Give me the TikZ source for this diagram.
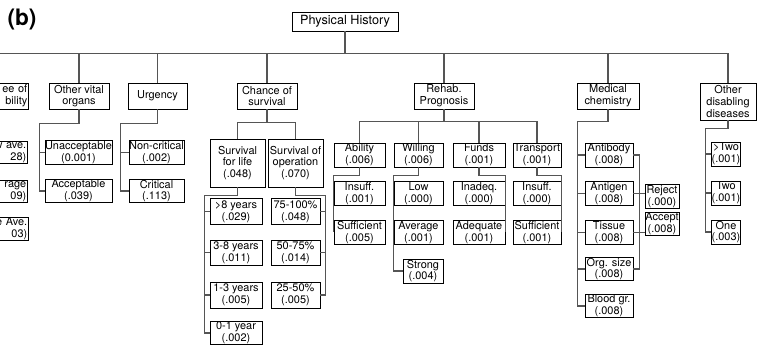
\documentclass[tikz,border=0pt]{standalone}
\usepackage{fontspec}
\setmainfont{TeX Gyre Heros}
\usetikzlibrary{calc}

\tikzset{every picture/.style={line width=0.75pt}}
\tikzset{
  box/.style={draw, line width=0.6pt, inner xsep=0pt, inner ysep=0.5pt, align=center, font=\fontsize{8.2}{8.8}\selectfont},
  cutbox/.style={box, anchor=east, text width=46pt, align=right, inner xsep=1pt},
  link/.style={draw={rgb, 255:red, 85; green, 85; blue, 85 }, line width=0.9pt}
}

\begin{document}
\begin{tikzpicture}[x=0.75pt,y=0.75pt,yscale=-1,xscale=1]
	\useasboundingbox (0,0) rectangle (757,345);
	\clip (0,0) rectangle (757,345);

	% Text Node
	\node[font=\fontsize{17}{17}\selectfont\bfseries] (lbl) at (22,20) {(b)};
	\node[box, font=\fontsize{9.5}{10}\selectfont, minimum width=79.5pt, minimum height=14.25pt] (ph) at (345,21.5) {Physical History};

	% Level 1 nodes
	\node[cutbox, minimum width=48pt, minimum height=19.5pt] (deg) at (29,96) {ee of\\bility\hspace*{3pt}};
	\node[box, minimum width=45pt, minimum height=19.5pt] (vital) at (79,96) {Other vital\\organs};
	\node[box, minimum width=44.25pt, minimum height=19.5pt] (urg) at (157.5,96) {Urgency};
	\node[box, minimum width=45pt, minimum height=19.5pt] (chance) at (267,96) {Chance of\\survival};
	\node[box, minimum width=45pt, minimum height=19.5pt] (rehab) at (444,96) {Rehab.\\Prognosis};
	\node[box, minimum width=46.5pt, minimum height=19.5pt] (med) at (608,96) {Medical\\chemistry};
	\node[box, minimum width=42pt, minimum height=27.75pt] (oth) at (728,101.5) {Other\\disabling\\diseases};

	%Straight Lines
	\foreach \n in {deg,vital,urg,chance,rehab,med,oth}
		\draw[link] (ph.south) -- ++(0,22) -| (\n.north);

	% Degree children (cut by the left edge)
	\node[cutbox, minimum width=48pt, minimum height=16.5pt] (dg1) at (28,152.5) {w ave.\\28)\hspace*{11pt}};
	\node[cutbox, minimum width=48pt, minimum height=16.5pt] (dg2) at (28,191.5) {rage\\09)\hspace*{11pt}};
	\node[cutbox, minimum width=48pt, minimum height=15.75pt] (dg3) at (29,229) {e Ave.\\03)\hspace*{11pt}};
	\draw[link] (deg.south) -- ++(0,14) -| ($(dg3.west)+(-5,0)$) -- (dg3.west);
	\draw[link] (dg1.west) -- ++(-5,0);
	\draw[link] (dg2.west) -- ++(-5,0);

	% Other vital organs
	\node[box, minimum width=50.25pt, minimum height=15.75pt] (unacc) at (78.5,152.5) {Unacceptable\\(0.001)};
	\node[box, minimum width=50.25pt, minimum height=16.5pt] (acc) at (78.5,191) {Acceptable\\(.039)};
	\draw[link] (vital.south) -- ++(0,14) -| ($(acc.west)+(-5,0)$) -- (acc.west);
	\draw[link] (unacc.west) -- ++(-5,0);

	% Urgency
	\node[box, minimum width=41.25pt, minimum height=15.75pt] (ncrit) at (156.5,152.5) {Non-critical\\(.002)};
	\node[box, minimum width=41.25pt, minimum height=16.5pt] (crit) at (156.5,191) {Critical\\(.113)};
	\draw[link] (urg.south) -- ++(0,14) -| ($(crit.west)+(-8,0)$) -- (crit.west);
	\draw[link] (ncrit.west) -- ++(-8,0);

	% Chance of survival
	\node[box, minimum width=41.25pt, minimum height=36pt] (life) at (237.5,163) {Survival\\for life\\(.048)};
	\node[box, minimum width=41.25pt, minimum height=36pt] (oper) at (295.5,163) {Survival of\\operation\\(.070)};
	\draw[link] (chance.south) -- ++(0,13) -| (life.north);
	\draw[link] (chance.south) -- ++(0,13) -| (oper.north);

	\node[box, minimum width=39pt, minimum height=19.5pt] (y8) at (236,211.5) {>8 years\\(.029)};
	\node[box, minimum width=39pt, minimum height=18.75pt] (y38) at (236,252.5) {3-8 years\\(.011)};
	\node[box, minimum width=39pt, minimum height=19.5pt] (y13) at (236,295) {1-3 years\\(.005)};
	\node[box, minimum width=39pt, minimum height=16.5pt] (y01) at (236,333) {0-1 year\\(.002)};
	\draw[link] (life.south) -- ++(0,8) -| ($(y01.west)+(-5,0)$) -- (y01.west);
	\foreach \n in {y8,y38,y13}
		\draw[link] (\n.west) -- ++(-5,0);

	\node[box, minimum width=36.75pt, minimum height=19.5pt] (p75) at (295.5,211.5) {75-100\%\\(.048)};
	\node[box, minimum width=36.75pt, minimum height=18.75pt] (p50) at (295.5,252.5) {50-75\%\\(.014)};
	\node[box, minimum width=36.75pt, minimum height=19.5pt] (p25) at (295.5,295) {25-50\%\\(.005)};
	\draw[link] (oper.south) -- ++(0,8) -| ($(p25.east)+(5,0)$) -- (p25.east);
	\draw[link] (p75.east) -- ++(5,0);
	\draw[link] (p50.east) -- ++(5,0);

	% Rehab. Prognosis
	\node[box, minimum width=38.25pt, minimum height=18pt] (abil) at (359.5,155) {Ability\\(.006)};
	\node[box, minimum width=36.75pt, minimum height=18pt] (will) at (418.5,155) {Willing\\(.006)};
	\node[box, minimum width=39pt, minimum height=18pt] (fund) at (479,155) {Funds\\(.001)};
	\node[box, minimum width=36pt, minimum height=18pt] (tran) at (537,155) {Transport\\(.001)};
	\foreach \n in {abil,will,fund,tran}
		\draw[link] (rehab.south) -- ++(0,12) -| (\n.north);

	\node[box, minimum width=38.25pt, minimum height=17.25pt] (ains) at (359.5,193.5) {Insuff.\\(.001)};
	\node[box, minimum width=38.25pt, minimum height=17.25pt] (asuf) at (359.5,232.5) {Sufficient\\(.005)};
	\draw[link] (abil.south) -- ++(0,8) -| (asuf.west);

	\node[box, minimum width=36.75pt, minimum height=17.25pt] (wlow) at (418.5,193.5) {Low\\(.000)};
	\node[box, minimum width=36.75pt, minimum height=17.25pt] (wavg) at (418.5,232.5) {Average\\(.001)};
	\node[box, minimum width=30pt, minimum height=18pt] (wstr) at (423,271) {Strong\\(.004)};
	\draw[link] (will.south) -- ++(0,8) -| ($(wstr.west)+(-9,0)$) -- (wstr.west);

	\node[box, minimum width=39pt, minimum height=17.25pt] (finad) at (479,193.5) {Inadeq.\\(.000)};
	\node[box, minimum width=39pt, minimum height=17.25pt] (fadq) at (479,232.5) {Adequate\\(.001)};
	\draw[link] (fund.south) -- ++(0,8) -| (fadq.east);

	\node[box, minimum width=36pt, minimum height=17.25pt] (tins) at (537,193.5) {Insuff.\\(.000)};
	\node[box, minimum width=36pt, minimum height=17.25pt] (tsuf) at (537,232.5) {Sufficient\\(.001)};
	\draw[link] (tran.south) -- ++(0,8) -| (tsuf.east);

	% Medical chemistry
	\node[box, minimum width=36pt, minimum height=18pt] (mab) at (609,155) {Antibody\\(.008)};
	\node[box, minimum width=36pt, minimum height=16.5pt] (mag) at (609,193.5) {Antigen\\(.008)};
	\node[box, minimum width=36pt, minimum height=16.5pt] (mti) at (609,232.5) {Tissue\\(.008)};
	\node[box, minimum width=36pt, minimum height=16.5pt] (mos) at (609,269) {Org. size\\(.008)};
	\node[box, minimum width=36pt, minimum height=16.5pt] (mbl) at (609,306) {Blood gr.\\(.008)};
	\draw[link] (med.south) -- ++(0,12) -| ($(mbl.west)+(-7,0)$) -- (mbl.west);
	\foreach \n in {mab,mag,mti,mos}
		\draw[link] (\n.west) -- ++(-7,0);
	\draw[link] (mab.east) -- ++(6,0) |- (mos.east);

	\node[box, minimum width=25.5pt, minimum height=17.25pt] (mrej) at (662,196.5) {Reject\\(.000)};
	\node[box, minimum width=25.5pt, minimum height=17.25pt] (macc) at (662,224) {Accept\\(.008)};
	\draw[link] (mag.east) -- (mag.east -| mrej.west);
	\draw[link] (mti.east) -- (mti.east -| macc.west);

	% Other disabling diseases
	\node[box, minimum width=19.5pt, minimum height=18pt] (mtwo) at (726,154) {>Two\\(.001)};
	\node[box, minimum width=19.5pt, minimum height=18pt] (two) at (726,193) {Two\\(.001)};
	\node[box, minimum width=19.5pt, minimum height=18pt] (one) at (726,232) {One\\(.003)};
	\draw[link] (oth.south) -- ++(0,8) -| ($(one.west)+(-6,0)$) -- (one.west);
	\draw[link] (mtwo.west) -- ++(-6,0);
	\draw[link] (two.west) -- ++(-6,0);

\end{tikzpicture}
\end{document}
